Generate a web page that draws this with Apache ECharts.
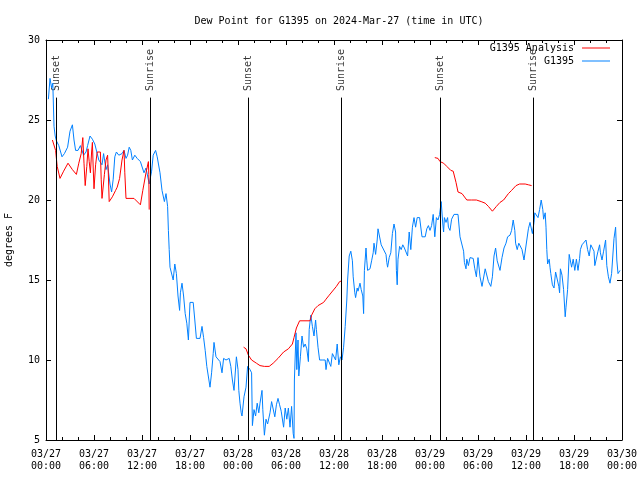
<!DOCTYPE html>
<html>
<head>
<meta charset="utf-8">
<script src="https://cdn.jsdelivr.net/npm/echarts@6/dist/echarts.min.js"></script>
<style>html,body{margin:0;padding:0;background:#fff;}#c{width:640px;height:480px;}</style>
</head>
<body>
<div id="c"></div>
<script>
const titleText = 'Dew Point for G1395 on 2024-Mar-27 (time in UTC)';
const xTickLabels = ['03/27\n00:00','03/27\n06:00','03/27\n12:00','03/27\n18:00','03/28\n00:00','03/28\n06:00','03/28\n12:00','03/28\n18:00','03/29\n00:00','03/29\n06:00','03/29\n12:00','03/29\n18:00','03/30\n00:00'];
const sunHours = [1.25, 13.0, 25.3, 36.9, 49.3, 60.9];
const sunLabels = ['Sunset','Sunrise','Sunset','Sunrise','Sunset','Sunrise'];

// G1395 observations: hours since 03/27 00:00 UTC, dew point (F)
const obsHours = [0.3,0.5,0.7,0.85,1.0,1.15,1.3,1.6,2.0,2.3,2.7,3.0,3.3,3.5,3.7,4.0,4.3,4.7,5.0,5.2,5.5,5.8,6.1,6.4,6.6,7.0,7.2,7.5,7.7,8.0,8.2,8.4,8.6,8.8,9.1,9.5,9.75,10.0,10.2,10.4,10.6,10.8,11.1,11.4,11.6,11.8,12.25,12.5,12.7,12.9,13.2,13.4,13.7,13.9,14.25,14.5,14.8,15.0,15.2,15.3,15.4,15.5,15.7,15.9,16.1,16.3,16.5,16.7,16.8,17.0,17.2,17.4,17.6,17.8,18.0,18.4,18.6,18.8,19.25,19.5,19.7,19.9,20.1,20.5,20.7,20.9,21.0,21.25,21.5,21.75,22.0,22.2,22.5,22.9,23.1,23.3,23.5,23.8,24.0,24.1,24.25,24.4,24.5,24.75,25.0,25.2,25.5,25.7,25.8,26.0,26.2,26.4,26.6,26.75,27.0,27.1,27.3,27.5,27.7,28.0,28.2,28.4,28.6,28.8,29.0,29.2,29.4,29.7,29.9,30.1,30.3,30.5,30.7,30.9,31.0,31.05,31.25,31.35,31.5,31.6,31.8,32.0,32.2,32.4,32.6,32.8,32.9,33.1,33.3,33.5,33.7,33.8,34.0,34.2,34.6,34.9,35.0,35.2,35.4,35.6,35.8,36.0,36.2,36.4,36.6,36.8,37.0,37.2,37.4,37.6,37.7,37.8,37.9,38.1,38.3,38.4,38.6,38.7,38.9,39.0,39.25,39.4,39.6,39.7,39.8,40.0,40.1,40.2,40.5,40.7,40.9,41.0,41.2,41.4,41.5,41.7,41.9,42.1,42.3,42.5,42.6,42.7,42.9,43.1,43.3,43.5,43.7,43.8,43.9,44.0,44.2,44.4,44.6,44.8,45.0,45.2,45.4,45.6,45.8,46.0,46.2,46.4,46.7,46.8,47.0,47.4,47.6,47.8,48.0,48.2,48.4,48.5,48.6,48.8,49.0,49.2,49.4,49.6,49.7,49.8,50.0,50.2,50.3,50.5,50.7,51.0,51.5,51.75,52.0,52.2,52.3,52.5,52.6,52.8,53.0,53.4,53.6,53.8,54.0,54.25,54.5,54.7,54.9,55.1,55.3,55.6,55.8,56.0,56.2,56.4,56.6,56.75,57.0,57.1,57.25,57.5,57.7,58.0,58.2,58.4,58.6,58.7,58.9,59.1,59.3,59.5,59.75,59.9,60.1,60.3,60.5,60.7,60.8,61.0,61.1,61.3,61.5,61.7,61.9,62.1,62.2,62.4,62.5,62.6,62.7,62.9,63.0,63.1,63.3,63.5,63.7,63.9,64.1,64.2,64.3,64.5,64.7,64.9,65.0,65.2,65.4,65.5,65.7,65.9,66.1,66.3,66.5,66.7,66.8,67.0,67.2,67.5,67.7,67.9,68.1,68.3,68.5,68.6,68.8,69.0,69.2,69.3,69.5,69.7,69.95,70.1,70.3,70.5,70.7,70.9,71.0,71.2,71.35,71.5,71.75];
const obsValues = [26.3,27.6,27.0,27.3,24.6,24.0,23.7,23.4,22.7,22.9,23.3,24.3,24.7,23.75,23.1,23.1,23.4,22.8,23.0,23.4,24.0,23.8,23.5,22.9,22.5,22.2,22.9,21.9,22.2,21.0,20.5,21.3,22.7,23.0,22.8,22.9,23.1,22.6,22.8,23.3,23.1,22.5,22.8,22.6,22.6,22.4,21.7,22.0,21.9,21.0,21.8,22.8,23.1,22.7,21.7,20.6,19.9,20.4,19.6,18.1,16.9,15.8,15.7,15.0,16.0,15.4,14.0,13.1,14.2,14.8,14.0,12.9,12.3,11.25,13.6,13.6,12.5,11.35,11.35,12.1,11.4,10.6,9.6,8.3,9.2,10.4,11.1,10.2,10.2,9.9,9.2,10.1,10.0,10.1,9.6,8.75,8.1,10.2,9.4,8.1,7.3,6.7,6.5,7.7,8.3,9.6,9.4,9.2,5.9,6.9,6.5,7.3,6.7,7.3,8.1,6.9,5.3,6.3,6.0,6.7,7.4,7.4,6.45,7.2,7.6,7.2,6.8,5.8,7.0,6.3,7.0,5.8,7.1,5.4,5.1,8.75,11.7,9.4,11.25,9.0,10.2,11.5,10.8,11.0,10.7,9.9,11.9,12.8,12.1,11.5,12.5,11.9,10.8,10.0,10.0,10.0,9.4,10.1,10.1,9.6,10.4,10.5,10.0,11.0,9.7,10.2,10.0,10.8,12.1,13.75,15.0,15.1,16.5,16.8,16.2,15.2,14.2,13.9,14.5,14.3,14.8,14.4,14.0,12.9,15.6,17.0,16.2,15.6,15.7,16.2,16.7,17.3,16.6,17.5,18.2,18.2,17.2,17.0,16.9,16.6,16.1,15.8,16.4,16.7,17.9,18.5,18.0,15.6,14.7,16.3,17.1,16.9,17.2,17.0,17.0,16.5,18.0,16.9,18.3,18.9,18.3,18.9,18.9,18.5,17.7,17.7,18.2,18.4,18.1,18.4,19.1,19.2,17.7,18.9,18.75,19.1,19.9,18.5,18.0,18.9,18.6,18.9,18.3,18.1,18.8,19.1,19.1,17.7,17.7,16.8,16.1,15.7,16.3,15.9,16.4,16.35,15.7,15.2,16.4,15.2,14.6,14.5,15.7,15.7,14.9,14.6,15.2,16.5,17.0,16.2,16.1,15.6,16.4,16.3,17.0,17.3,17.7,17.8,18.1,18.75,18.1,17.3,16.9,17.3,17.4,16.9,16.25,16.25,17.5,18.2,18.6,18.7,17.9,18.6,19.2,19.2,18.9,19.4,20.0,19.4,18.8,19.2,18.3,16.9,16.0,16.3,15.8,15.4,14.7,14.5,15.5,15.4,14.6,14.2,15.7,15.3,14.4,12.7,13.3,14.4,16.6,16.5,15.8,16.3,15.6,16.3,15.6,16.35,16.9,17.2,17.1,17.5,16.9,16.5,17.2,17.3,16.8,15.9,15.9,16.8,17.2,16.7,16.25,16.8,17.5,15.9,15.2,14.8,15.4,15.4,17.6,18.3,16.25,15.4,15.6];

// G1395 Analysis: hours and values, null marks a gap
const anaHours = [0.8,1.0,1.2,1.4,1.75,2.2,2.75,3.3,3.8,4.1,4.4,4.6,4.75,4.9,5.1,5.25,5.4,5.55,5.7,5.8,5.9,6.0,6.2,6.4,6.8,6.9,7.0,7.3,7.5,7.7,7.8,7.9,8.3,8.7,8.9,9.2,9.5,9.75,9.85,10.0,11.0,11.8,12.1,12.5,12.8,12.85,12.9,
  18.0,
  24.7,25.0,25.3,25.7,26.3,26.75,27.3,27.9,28.4,29.0,29.7,30.3,30.8,31.0,31.3,31.7,33.0,33.2,33.6,34.0,34.7,35.0,35.4,36.3,36.7,37.0,
  43.0,
  48.6,49.0,49.25,49.7,50.1,50.6,50.9,51.25,51.5,52.0,52.6,53.2,53.8,54.4,54.9,55.3,55.8,56.3,56.75,57.2,57.8,58.2,58.75,59.2,59.9,60.3,60.7];
const anaValues = [23.75,23.7,23.1,22.1,21.35,21.8,22.3,21.9,21.6,22.3,22.9,23.9,22.3,20.9,22.1,23.2,22.4,21.7,23.0,23.6,22.0,20.7,22.2,23.0,23.0,21.3,20.1,21.6,22.5,22.8,21.5,19.9,20.2,20.6,20.8,21.35,22.5,23.1,21.7,20.1,20.1,19.7,20.6,21.7,22.4,21.6,19.4,
  null,
  10.8,10.7,10.3,10.0,9.8,9.65,9.6,9.6,9.8,10.1,10.5,10.7,11.0,11.4,12.0,12.45,12.45,12.8,13.2,13.4,13.6,13.8,14.05,14.6,14.9,14.95,
  null,
  22.65,22.6,22.4,22.3,22.1,21.85,21.8,21.1,20.5,20.4,20.0,20.0,20.0,19.9,19.8,19.6,19.3,19.6,19.85,20.0,20.4,20.6,20.9,21.0,21.0,20.95,20.9];

const FONT = 'DejaVu Sans Mono';
const chart = echarts.init(document.getElementById('c'), null, {renderer: 'canvas'});

const axisCommon = {
  axisLine: {show: true, onZero: false, lineStyle: {color: '#000', width: 1}},
  splitLine: {show: false}
};

chart.setOption({
  animation: false,
  backgroundColor: '#fff',
  textStyle: {fontFamily: FONT},
  title: {
    text: titleText, left: 334, top: 11, textAlign: 'center',
    textStyle: {fontFamily: FONT, fontSize: 10, fontWeight: 'normal', color: '#000'}
  },
  legend: [
    {data: ['G1395 Analysis'], right: 30, top: 43, orient: 'vertical', align: 'right', padding: 0,
     itemWidth: 28, itemHeight: 1, icon: 'rect',
     textStyle: {fontFamily: FONT, fontSize: 10, color: '#000', padding: [0, 3, 0, 0]}},
    {data: ['G1395'], right: 30, top: 56, orient: 'vertical', align: 'right', padding: 0,
     itemWidth: 28, itemHeight: 1, icon: 'rect',
     textStyle: {fontFamily: FONT, fontSize: 10, color: '#000', padding: [0, 3, 0, 0]}}
  ],
  grid: {left: 46, right: 18, top: 40, bottom: 40, containLabel: false, outerBoundsMode: 'none'},
  xAxis: [
    Object.assign({}, axisCommon, {
      type: 'value', min: 0, max: 72, interval: 6, position: 'bottom',
      axisTick: {show: true, inside: true, length: 5, lineStyle: {color: '#000'}},
      minorTick: {show: true, splitNumber: 3, length: 3, lineStyle: {color: '#000'}},
      axisLabel: {show: true, margin: 8, fontFamily: FONT, fontSize: 10, color: '#000', lineHeight: 12,
        formatter: v => xTickLabels[Math.round(v / 6)]}
    }),
    Object.assign({}, axisCommon, {
      type: 'value', min: 0, max: 72, interval: 6, position: 'top',
      axisTick: {show: true, inside: true, length: 5, lineStyle: {color: '#000'}},
      minorTick: {show: true, splitNumber: 3, length: 3, lineStyle: {color: '#000'}},
      axisLabel: {show: false}
    })
  ],
  yAxis: [
    Object.assign({}, axisCommon, {
      type: 'value', min: 5, max: 30, interval: 5, position: 'left',
      name: 'degrees F', nameLocation: 'middle', nameGap: 32, nameRotate: 90,
      nameTextStyle: {fontFamily: FONT, fontSize: 10, color: '#000'},
      axisTick: {show: true, inside: true, length: 5, lineStyle: {color: '#000'}},
      axisLabel: {show: true, margin: 6, fontFamily: FONT, fontSize: 10, color: '#000'}
    }),
    Object.assign({}, axisCommon, {
      type: 'value', min: 5, max: 30, interval: 5, position: 'right',
      axisTick: {show: true, inside: true, length: 5, lineStyle: {color: '#000'}},
      axisLabel: {show: false}
    })
  ],
  series: [
    {
      name: 'sun', type: 'scatter', symbolSize: 0, silent: true,
      data: sunHours.map((h, i) => [h, 26.75, sunLabels[i]]),
      label: {show: true, position: 'inside', rotate: 90, align: 'left', verticalAlign: 'middle',
        offset: [1, 0],
        formatter: p => p.data[2], fontFamily: FONT, fontSize: 10, color: '#000'},
      markLine: {
        silent: true, symbol: ['none', 'none'], animation: false,
        lineStyle: {color: '#000', width: 1, type: 'solid'},
        label: {show: false},
        data: sunHours.map(h => [{coord: [h, 5]}, {coord: [h, 26.4]}])
      },
      z: 1
    },
    {
      name: 'G1395 Analysis', type: 'line', showSymbol: false, symbol: 'none', connectNulls: false,
      color: '#ff0000', lineStyle: {color: '#ff0000', width: 1},
      data: anaHours.map((h, i) => [h, anaValues[i]]), z: 3
    },
    {
      name: 'G1395', type: 'line', showSymbol: false, symbol: 'none',
      color: '#0080ff', lineStyle: {color: '#0080ff', width: 1},
      data: obsHours.map((h, i) => [h, obsValues[i]]), z: 2
    }
  ]
});
</script>
</body>
</html>
